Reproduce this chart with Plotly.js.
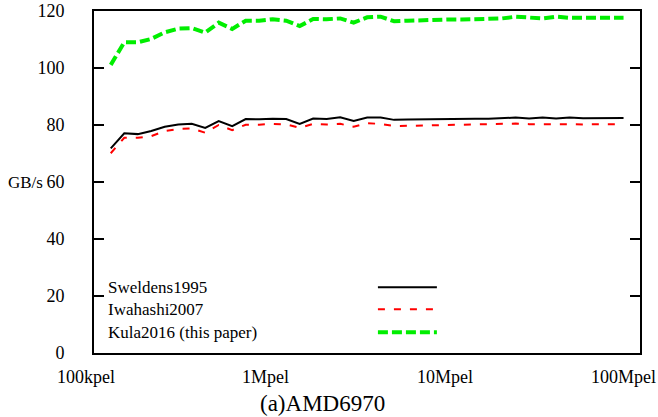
<!DOCTYPE html>
<html>
<head>
<meta charset="utf-8">
<script src="https://cdn.plot.ly/plotly-3.0.1.min.js"></script>
<style>html,body{margin:0;padding:0;background:#fff;}#chart{width:658px;height:417px;}</style>
</head>
<body>
<div id="chart"></div>
<script>
// Image size in pixels (pel)
const pels = [124000, 147500, 175400, 208500, 248000, 295000, 350800, 417100, 496000, 590000,
  701500, 834200, 992000, 1180000, 1403000, 1668000, 1984000, 2360000, 2806000, 3337000,
  3968000, 4719000, 5612000, 6674000, 7936000, 9438000, 11220000, 13350000, 15870000, 18880000,
  22450000, 26700000, 31750000, 37760000, 44900000, 53400000, 63500000, 75520000, 89800000];

// Throughput in GB/s
const sweldens1995 = [71.8, 77.1, 76.8, 77.9, 79.4, 80.2, 80.4, 79.0, 81.4, 79.6,
  82.1, 82.0, 82.2, 82.1, 80.4, 82.3, 82.1, 82.7, 81.4, 82.6,
  82.6, 81.8, 81.9, 82.0, 82.0, 82.1, 82.1, 82.2, 82.2, 82.5,
  82.6, 82.3, 82.6, 82.3, 82.6, 82.4, 82.5, 82.5, 82.5];
const iwahashi2007 = [70.1, 75.5, 75.5, 76.1, 77.9, 78.6, 78.8, 77.3, 80.0, 78.2,
  80.1, 80.1, 80.4, 80.2, 79.0, 80.4, 80.2, 80.4, 79.4, 80.6,
  80.4, 79.6, 79.7, 79.8, 79.9, 80.0, 80.0, 80.1, 80.1, 80.2,
  80.5, 80.3, 80.3, 80.5, 80.3, 80.2, 80.3, 80.4, 80.3];
const kula2016 = [101.1, 109.0, 109.0, 110.2, 112.5, 113.8, 114.0, 112.4, 115.9, 113.7,
  116.6, 116.6, 117.1, 116.6, 114.7, 117.2, 117.1, 117.4, 115.9, 117.8,
  118.0, 116.4, 116.6, 116.8, 116.9, 117.0, 117.0, 117.1, 117.2, 117.4,
  118.0, 117.6, 117.4, 118.0, 117.6, 117.6, 117.5, 117.6, 117.6];

const seriesNames = ["Sweldens1995", "Iwahashi2007", "Kula2016 (this paper)"];
const xTickVals = [1e5, 1e6, 1e7, 1e8];
const xTickText = ["100kpel", "1Mpel", "10Mpel", "100Mpel"];
const yTickVals = [0, 20, 40, 60, 80, 100, 120];

// minor tick positions (2..9 within each decade)
const xMinorVals = [];
xTickVals.forEach(d => { for (let m = 2; m <= 9; m++) { if (d * m <= 1.11e8) xMinorVals.push(d * m); } });

const styles = [
  {color: "#000000", width: 2, dash: "solid"},
  {color: "#ff0000", width: 2, dash: "7px,9px"},
  {color: "#00ee00", width: 4, dash: "10px,4px"}
];
const seriesData = [sweldens1995, iwahashi2007, kula2016];

const traces = seriesData.map((ys, i) => ({
  x: pels, y: ys, type: "scatter", mode: "lines", name: seriesNames[i],
  line: styles[i], showlegend: false, hoverinfo: "skip"
}));

const FONT = "Liberation Serif, Times New Roman, serif";
const legendRowsY = [0.192, 0.128, 0.061];
const annotations = seriesNames.map((n, i) => ({
  xref: "paper", yref: "paper", x: 0.022, y: legendRowsY[i], xanchor: "left", yanchor: "middle",
  text: n, showarrow: false, font: {family: FONT, size: 17, color: "#000"}
}));
// x tick labels (drawn as annotations at the tick values, gnuplot-style offset)
xTickVals.forEach((v, i) => annotations.push({
  xref: "x", yref: "paper", x: Math.log10(v), y: 0, xanchor: "center", yanchor: "middle",
  xshift: -8, yshift: -24, text: xTickText[i], showarrow: false,
  font: {family: FONT, size: 18, color: "#000"}
}));
annotations.push({xref: "paper", yref: "paper", x: -0.161, y: 0.5, xanchor: "left", yanchor: "middle",
  text: "GB/s", showarrow: false, font: {family: FONT, size: 17, color: "#000"}});
annotations.push({xref: "paper", yref: "paper", x: 0.419, y: -0.149, xanchor: "center", yanchor: "middle",
  text: "(a)AMD6970", showarrow: false, font: {family: FONT, size: 23, color: "#000"}});

// legend line samples
const shapes = styles.map((s, i) => ({
  type: "line", xref: "paper", yref: "paper", x0: 0.52, x1: 0.628, y0: legendRowsY[i], y1: legendRowsY[i],
  line: {color: s.color, width: s.width, dash: s.dash}
}));
// x-axis tick marks, inside, on bottom and top (major 9px, minor 5px)
function addTick(v, len) {
  const lx = Math.log10(v);
  shapes.push({type: "line", xref: "x", yref: "paper", ysizemode: "pixel", yanchor: 0,
    x0: lx, x1: lx, y0: 0, y1: len, line: {color: "#000", width: 1.5}});
  shapes.push({type: "line", xref: "x", yref: "paper", ysizemode: "pixel", yanchor: 1,
    x0: lx, x1: lx, y0: 0, y1: -len, line: {color: "#000", width: 1.5}});
}
xTickVals.forEach(v => addTick(v, 9));
xMinorVals.forEach(v => addTick(v, 5));

const layout = {
  width: 658, height: 417,
  margin: {l: 94, r: 18, t: 11, b: 64},
  paper_bgcolor: "#fff", plot_bgcolor: "#fff",
  font: {family: FONT, size: 18, color: "#000"},
  xaxis: {
    type: "log", range: [5, 8.045], tickmode: "array", tickvals: xTickVals, showticklabels: false,
    ticks: "", showline: true, linewidth: 2, linecolor: "#000", mirror: true, showgrid: false, zeroline: false
  },
  yaxis: {
    range: [0, 120], tickmode: "array", tickvals: yTickVals,
    ticks: "inside", ticklen: 10, tickwidth: 2, tickcolor: "#000",
    showline: true, linewidth: 2, linecolor: "#000", mirror: "ticks", showgrid: false, zeroline: false,
    tickfont: {family: FONT, size: 18, color: "#000"}, ticklabelstandoff: 24
  },
  annotations: annotations,
  shapes: shapes
};

Plotly.newPlot("chart", traces, layout, {displayModeBar: false, staticPlot: true});
</script>
</body>
</html>
